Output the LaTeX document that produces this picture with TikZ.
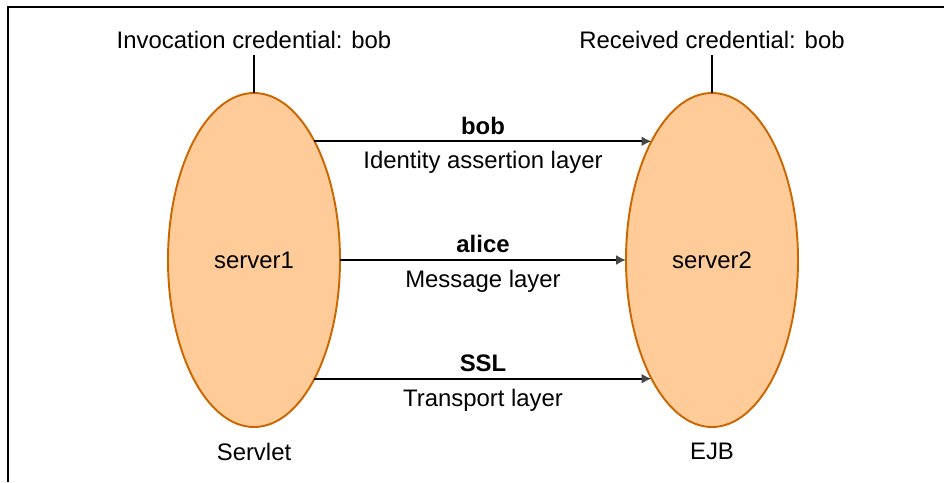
\documentclass[tikz,border=0pt]{standalone}
\usepackage{fontspec}
\setmainfont{Liberation Sans}
\usepackage{xcolor}
\usetikzlibrary{arrows.meta,positioning,shapes.geometric}
\definecolor{srv_fill}{RGB}{255,204,153}
\definecolor{srv_edge}{RGB}{204,102,0}
\definecolor{tip_grey}{RGB}{70,70,70}

\begin{document}
\begin{tikzpicture}[font=\fontsize{13.6}{16}\selectfont,
          srv/.style={ellipse, draw=srv_edge, line width=1.1pt, fill=srv_fill,
                      minimum width=3.44cm, minimum height=6.68cm, inner sep=0pt, outer sep=0pt},
          arr/.style={line width=1.1pt, -{Latex[length=0.2cm,width=0.2cm,fill=tip_grey,color=tip_grey]}},
          stem/.style={line width=0.8pt}]
        \useasboundingbox (0,0) rectangle (18.88,-9.64);
        \draw[line width=0.8pt] (0.16,-9.64) -- (0.16,-0.14) -- (18.88,-0.14);
        \node[srv] (s1) at (5.08,-5.2)  {server1};
        \node[srv] (s2) at (14.24,-5.2) {server2};
        \node (inv)  at (5.08,-0.8)  {Invocation credential: bob};
        \node (recv) at (14.24,-0.8) {Received credential: bob};
        \node[below=0.2cm of s1] (svl) {Servlet};
        \node[below=0.2cm of s2] (ejb) {EJB};
        \draw[stem] (inv)  -- (s1);
        \draw[stem] (recv) -- (s2);
        \draw[arr] (s1.63) -- node[above]{\textbf{bob}}
          node[below=2pt]{Identity assertion layer} (s1.63 -| s2.117);
        \draw[arr] (s1.east) -- node[above]{\textbf{alice}}
          node[below=2pt]{Message layer} (s2.west);
        \draw[arr] (s1.-63) -- node[above]{\textbf{SSL}}
          node[below=2pt]{Transport layer} (s1.-63 -| s2.-117);
      \end{tikzpicture}
\end{document}
